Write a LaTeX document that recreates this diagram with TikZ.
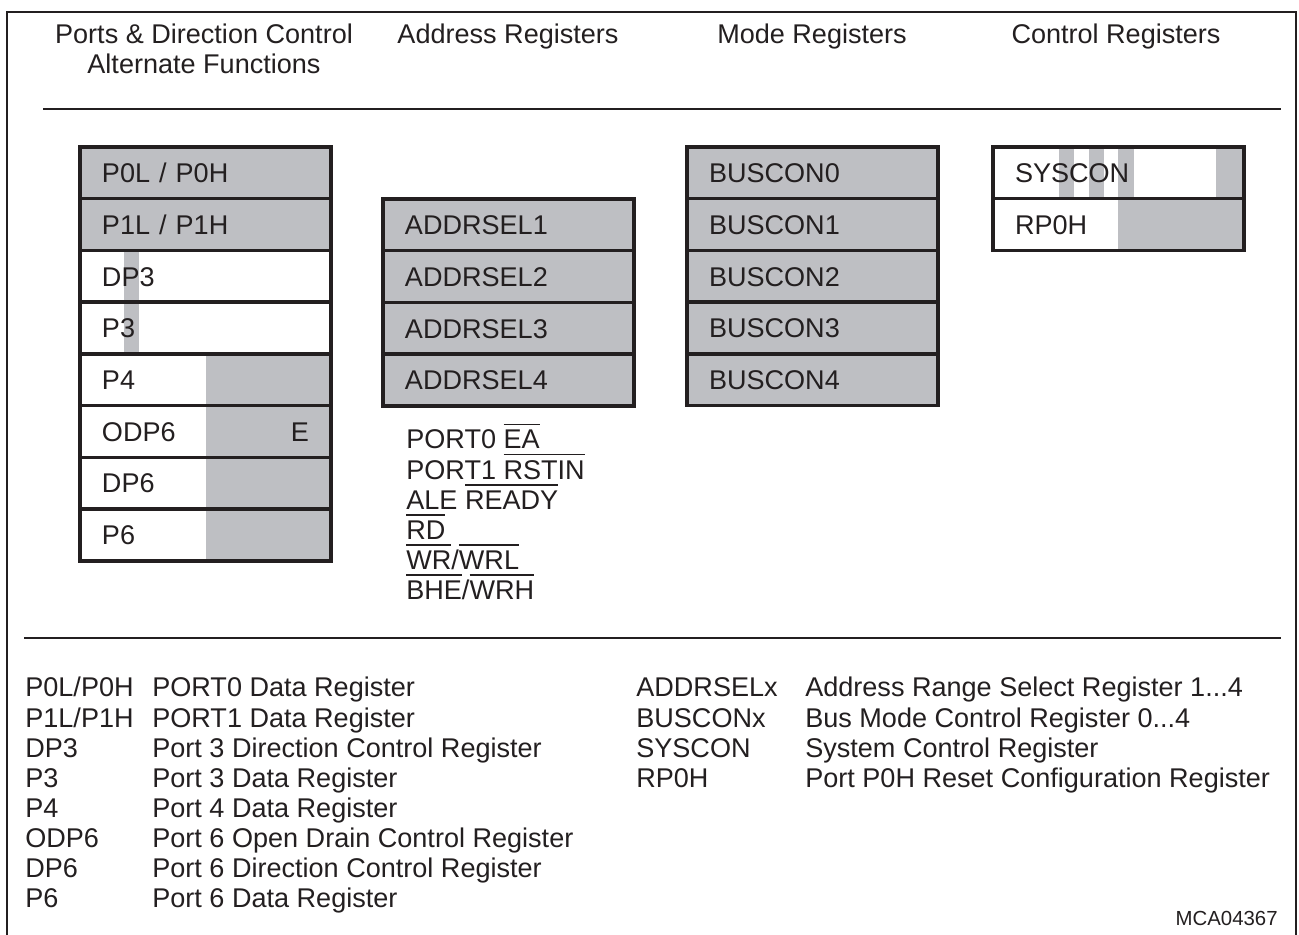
\documentclass[tikz,border=0pt]{standalone}
\usepackage{fontspec}
\setmainfont{Liberation Sans}
\usetikzlibrary{positioning,calc}
\definecolor{ink}{HTML}{231F20}
\definecolor{regfill}{HTML}{BEBFC3}
\newcommand{\ovl}[1]{\smash{\setbox0=\hbox{#1}\rlap{\rule[13.4pt]{\wd0}{0.9pt}}\box0}}

\begin{document}
\begin{tikzpicture}[x=0.02cm,y=-0.02cm,node distance=0pt,
  font=\fontsize{15.4}{17.1}\selectfont,text=ink,
  reg/.style={draw=ink,line width=2pt,outer sep=0pt,minimum width=5.02cm,minimum height=1.035cm,
    inner xsep=0.44cm,text width=4.14cm,align=left,text height=11pt,text depth=0pt},
  grayreg/.style={fill=regfill},
  greybands/.style={path picture={\foreach \a/\b in {#1}{\fill[regfill]
    ($(path picture bounding box.south west)!\a!(path picture bounding box.south east)$) rectangle
    ($(path picture bounding box.north west)!\b!(path picture bounding box.north east)$);}}},
  sepline/.style={draw=ink,line width=1.1pt}]
\useasboundingbox (0,0) rectangle (1299,935);
\draw[sepline] (7,935) -- (7,12) -- (1296,12) -- (1296,935);
\draw[sepline] (43,109) -- (1281,109);
\draw[sepline] (24,638) -- (1281,638);
% column headings
\node[anchor=north,align=center,inner sep=0pt] (hports) at (204,24) {Ports \& Direction Control\\Alternate Functions};
\node[anchor=base,inner sep=0pt] (haddr) at (508,44) {Address Registers};
\node[anchor=base,inner sep=0pt] (hmode) at (812,44) {Mode Registers};
\node[anchor=base,inner sep=0pt] (hctrl) at (1116,44) {Control Registers};
% ports
\node[reg,grayreg,anchor=north west] (p0) at (80,147) {P0L / P0H};
\node[reg,grayreg,below=of p0] (p1) {P1L / P1H};
\node[reg,greybands={0.177/0.237},below=of p1] (dp3) {DP3};
\node[reg,greybands={0.177/0.237},below=of dp3] (p3) {P3};
\node[reg,greybands={0.502/1},below=of p3] (p4) {P4};
\node[reg,greybands={0.502/1},below=of p4] (odp6) {ODP6\hfill E};
\node[reg,greybands={0.502/1},below=of odp6] (dp6) {DP6};
\node[reg,greybands={0.502/1},below=of dp6] (p6) {P6};
% address registers
\node[reg,grayreg,anchor=north west] (as1) at (383,199) {ADDRSEL1};
\node[reg,grayreg,below=of as1] (as2) {ADDRSEL2};
\node[reg,grayreg,below=of as2] (as3) {ADDRSEL3};
\node[reg,grayreg,below=of as3] (as4) {ADDRSEL4};
\node[anchor=base west,inner sep=0pt] (pins) at (406,449) {\begin{tabular}[t]{@{}l@{}}
  PORT0 \ovl{EA}\\ PORT1 \ovl{RSTIN}\\ ALE \ovl{READY}\\ \ovl{RD}\\ \ovl{WR}/\ovl{WRL}\\ \ovl{BHE}/\ovl{WRH}\end{tabular}};
% mode registers
\node[reg,grayreg,anchor=north west] (bc0) at (687,147) {BUSCON0};
\node[reg,grayreg,below=of bc0] (bc1) {BUSCON1};
\node[reg,grayreg,below=of bc1] (bc2) {BUSCON2};
\node[reg,grayreg,below=of bc2] (bc3) {BUSCON3};
\node[reg,grayreg,below=of bc3] (bc4) {BUSCON4};
% control registers
\node[reg,greybands={0.262/0.323,0.383/0.444,0.5/0.56,0.89/1},anchor=north west] (syscon) at (993,147) {SYSCON};
\node[reg,greybands={0.5/1},below=of syscon] (rp0h) {RP0H};
% legend
\node[anchor=base west,inner sep=0pt] (keyl) at (25,697) {\begin{tabular}[t]{@{}p{2.54cm}@{}l@{}}
  P0L/P0H & PORT0 Data Register\\ P1L/P1H & PORT1 Data Register\\ DP3 & Port 3 Direction Control Register\\
  P3 & Port 3 Data Register\\ P4 & Port 4 Data Register\\ ODP6 & Port 6 Open Drain Control Register\\
  DP6 & Port 6 Direction Control Register\\ P6 & Port 6 Data Register\end{tabular}};
\node[anchor=base west,inner sep=0pt] (keyr) at (636,697) {\begin{tabular}[t]{@{}p{3.38cm}@{}l@{}}
  ADDRSELx & Address Range Select Register 1...4\\ BUSCONx & Bus Mode Control Register 0...4\\
  SYSCON & System Control Register\\ RP0H & Port P0H Reset Configuration Register\end{tabular}};
\node[anchor=base east,inner sep=0pt,font=\fontsize{11.6}{13}\selectfont] (mca) at (1278,925) {MCA04367};
\end{tikzpicture}
\end{document}
